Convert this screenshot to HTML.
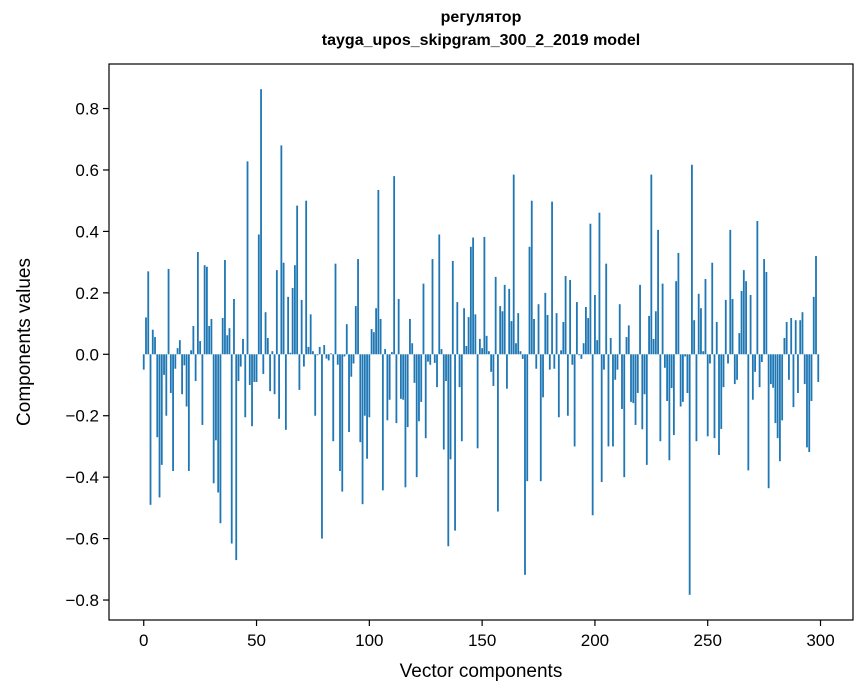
<!DOCTYPE html>
<html><head><meta charset="utf-8"><style>
html,body{margin:0;padding:0;background:#fff;}
svg{display:block;font-family:"Liberation Sans","DejaVu Sans",sans-serif;}
</style></head><body>
<svg id="chart" width="867" height="696" viewBox="0 0 867 696" xmlns="http://www.w3.org/2000/svg">
<rect x="0" y="0" width="867" height="696" fill="#fff"/>
<text x="481" y="22" text-anchor="middle" font-size="16" font-weight="bold">регулятор</text>
<text x="481" y="45" text-anchor="middle" font-size="16" font-weight="bold">tayga_upos_skipgram_300_2_2019 model</text>
<g id="bars"></g>
<g id="axes"></g>
<text x="481" y="677" text-anchor="middle" font-size="19">Vector components</text>
<text x="0" y="0" transform="translate(30,342) rotate(-90)" text-anchor="middle" font-size="19">Components values</text>
</svg>
<script>
const values = [
-0.05,0.12,0.27,-0.49,0.08,0.056,-0.27,-0.466,-0.36,-0.067,
-0.2,0.278,-0.126,-0.38,-0.047,0.02,0.046,-0.13,-0.036,-0.17,
-0.38,0.013,0.092,-0.087,0.333,0.043,-0.23,0.29,0.285,0.092,
0.115,-0.42,-0.28,-0.45,-0.55,0.118,0.307,0.062,0.085,-0.616,
0.18,-0.67,-0.087,-0.04,0.05,-0.205,0.628,-0.1,-0.234,-0.09,
-0.09,0.39,0.863,-0.064,0.137,0.053,-0.12,0.01,-0.13,0.274,
-0.21,0.68,0.298,-0.246,0.187,0.005,0.216,0.29,0.484,-0.116,
0.177,-0.04,0.5,0.024,0.13,0.01,-0.2,-0.003,0.024,-0.6,
0.03,-0.014,-0.02,0.003,-0.283,0.295,-0.034,-0.38,-0.447,-0.007,
0.098,-0.253,-0.073,-0.03,0.157,0.31,-0.286,-0.488,-0.2,-0.34,
-0.205,0.082,0.072,0.15,0.535,0.115,-0.443,0.017,-0.215,-0.148,
0.007,0.58,-0.224,0.18,-0.145,-0.148,-0.433,-0.237,0.115,0.036,
-0.093,-0.4,-0.218,-0.155,0.23,-0.273,-0.024,-0.034,0.31,-0.028,
-0.107,0.39,0.017,-0.31,-0.087,-0.625,-0.342,0.304,-0.574,0.17,
-0.107,-0.283,0.15,0.027,0.121,0.35,0.38,0.13,-0.306,0.05,
0.02,0.382,0.06,0.01,-0.057,-0.103,0.252,-0.512,0.157,0.14,
0.226,-0.112,0.213,0.108,0.585,0.036,0.134,0.01,-0.015,-0.718,
-0.413,0.35,0.5,0.115,-0.047,0.163,-0.413,-0.14,0.2,0.128,
-0.05,0.497,-0.047,0.134,-0.205,0.013,0.105,0.255,-0.2,0.242,
-0.034,-0.3,0.17,-0.003,-0.015,0.036,0.154,0.118,0.425,-0.524,
0.193,0.046,0.461,-0.416,-0.05,0.295,-0.3,0.053,-0.3,-0.083,
-0.05,0.163,-0.178,-0.4,0.056,0.094,-0.155,-0.159,-0.23,-0.126,
0.226,-0.244,-0.13,-0.36,0.125,0.585,0.05,0.14,0.405,-0.283,
0.23,-0.044,-0.152,-0.345,-0.11,-0.263,0.238,0.33,-0.17,-0.155,
-0.007,-0.126,-0.783,0.617,0.111,-0.283,0.197,0.15,0.01,0.245,
-0.267,-0.03,0.298,-0.273,0.105,-0.328,-0.243,-0.107,0.177,-0.03,
0.405,0.18,-0.097,-0.083,0.069,0.206,0.274,0.238,-0.378,0.193,
-0.148,-0.057,0.434,-0.107,-0.025,0.31,0.268,-0.436,-0.097,-0.109,
-0.224,-0.273,-0.348,-0.215,0.053,0.105,-0.083,0.118,-0.172,0.111,
-0.126,0.111,0.137,-0.097,-0.303,-0.318,-0.152,0.187,0.32,-0.09
];
const xTicks = [0,50,100,150,200,250,300];
const yTicks = [-0.8,-0.6,-0.4,-0.2,0.0,0.2,0.4,0.6,0.8];

const L=109,R=853,T=64,B=620;
const xMin=-15.4,xMax=314.4,yMin=-0.865,yMax=0.945;
function sx(v){return L+(v-xMin)/(xMax-xMin)*(R-L);}
function sy(v){return T+(yMax-v)/(yMax-yMin)*(B-T);}
const NS="http://www.w3.org/2000/svg";
const gb=document.getElementById('bars');
values.forEach((v,i)=>{
  const r=document.createElementNS(NS,'rect');
  const x0=sx(i-0.4),x1=sx(i+0.4);
  const y0=sy(Math.max(v,0)),y1=sy(Math.min(v,0));
  r.setAttribute('x',x0);r.setAttribute('width',x1-x0);
  r.setAttribute('y',y0);r.setAttribute('height',Math.max(y1-y0,0.3));
  r.setAttribute('fill','#1f77b4');
  
  
  gb.appendChild(r);
});
const ga=document.getElementById('axes');
const frame=document.createElementNS(NS,'rect');
frame.setAttribute('x',L);frame.setAttribute('y',T);frame.setAttribute('width',R-L);frame.setAttribute('height',B-T);
frame.setAttribute('fill','none');frame.setAttribute('stroke','#000');frame.setAttribute('stroke-width','1.2');


ga.appendChild(frame);
xTicks.forEach(t=>{
  const x=sx(t);
  const l=document.createElementNS(NS,'line');
  l.setAttribute('x1',x);l.setAttribute('x2',x);l.setAttribute('y1',B);l.setAttribute('y2',B+6);
  l.setAttribute('stroke','#000');l.setAttribute('stroke-width','1.2');
  
  
  ga.appendChild(l);
  const tx=document.createElementNS(NS,'text');
  tx.setAttribute('x',x);tx.setAttribute('y',B+26);tx.setAttribute('text-anchor','middle');tx.setAttribute('font-size','17');
  tx.textContent=String(t);
  
  
  ga.appendChild(tx);
});
yTicks.forEach(t=>{
  const y=sy(t);
  const l=document.createElementNS(NS,'line');
  l.setAttribute('x1',L-6);l.setAttribute('x2',L);l.setAttribute('y1',y);l.setAttribute('y2',y);
  l.setAttribute('stroke','#000');l.setAttribute('stroke-width','1.2');
  
  
  ga.appendChild(l);
  const tx=document.createElementNS(NS,'text');
  tx.setAttribute('x',L-10);tx.setAttribute('y',y+6);tx.setAttribute('text-anchor','end');tx.setAttribute('font-size','17');
  tx.textContent=(t<0?'\u2212':'')+Math.abs(t).toFixed(1);
  
  
  ga.appendChild(tx);
});
</script>
</body></html>
